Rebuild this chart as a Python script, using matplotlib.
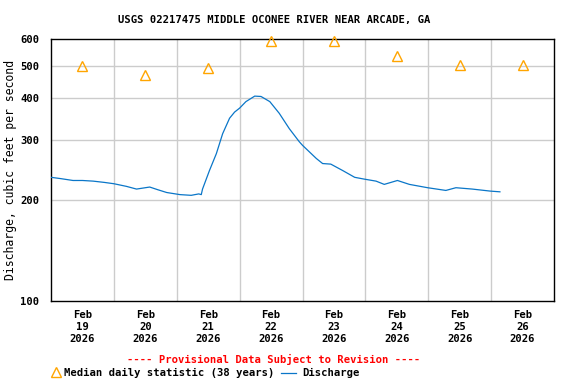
import matplotlib
matplotlib.use("Agg")
import matplotlib.pyplot as plt
from matplotlib.lines import Line2D
from matplotlib.ticker import FixedLocator, NullLocator, NullFormatter
from datetime import datetime, timedelta

plt.rcParams['font.family'] = ['DejaVu Sans Mono']
plt.rcParams['font.weight'] = 'bold'

start = datetime(2026, 2, 19)

# Discharge (cfs) readings: day offset from Feb 19 00:00, value
q_days = [0.00, 0.15, 0.35, 0.50, 0.67, 0.85, 1.00, 1.20, 1.36, 1.57, 1.70, 1.84,
          2.05, 2.23, 2.35, 2.39, 2.41, 2.52, 2.63, 2.73, 2.84, 2.92, 3.00, 3.10,
          3.24, 3.34, 3.48, 3.63, 3.79, 3.95, 4.00, 4.22, 4.32, 4.45, 4.64, 4.83,
          4.99, 5.17, 5.30, 5.51, 5.70, 5.99, 6.28, 6.44, 6.70, 6.99, 7.14]
q_vals = [233, 231, 228, 228, 227, 225, 223, 219, 215, 218, 214, 210,
          207, 206, 208, 207, 215, 244, 274, 314, 349, 364, 374, 391,
          406, 405, 391, 361, 325, 297, 290, 265, 256, 255, 244, 233,
          230, 227, 222, 228, 222, 217, 213, 217, 215, 212, 211]

# Median daily statistic (38 years), at noon of each day
med_days = [0.5, 1.5, 2.5, 3.5, 4.5, 5.5, 6.5, 7.5]
med_vals = [500, 470, 491, 592, 592, 533, 502, 502]

tick_labels = ["Feb\n19\n2026", "Feb\n20\n2026", "Feb\n21\n2026", "Feb\n22\n2026",
               "Feb\n23\n2026", "Feb\n24\n2026", "Feb\n25\n2026", "Feb\n26\n2026"]
y_ticks = [100, 200, 300, 400, 500, 600]

fs = 7.6
fig = plt.figure(figsize=(5.76, 3.84), dpi=100)
ax = fig.add_axes([51/576, 1-301/384, (554-51)/576, (301-39)/384])

q_t = [start + timedelta(days=d) for d in q_days]
m_t = [start + timedelta(days=d) for d in med_days]

ax.plot(q_t, q_vals, color='#0a76c8', lw=0.9, zorder=3)
ax.plot(m_t, med_vals, linestyle='none', marker='^', markersize=7,
        markerfacecolor='none', markeredgecolor='#ffa500', markeredgewidth=1.0,
        zorder=4, clip_on=False)

ax.set_yscale('log')
ax.set_ylim(100, 600)
ax.set_xlim(start, start + timedelta(days=8))
ax.yaxis.set_major_locator(FixedLocator(y_ticks))
ax.yaxis.set_minor_locator(NullLocator())
ax.yaxis.set_minor_formatter(NullFormatter())
ax.set_yticklabels([str(v) for v in y_ticks])

# gridlines at midnight, labels at noon
for d in range(1, 8):
    ax.axvline(start + timedelta(days=d), color='#cccccc', lw=1.0, zorder=1)
for v in [200, 300, 400, 500]:
    ax.axhline(v, color='#cccccc', lw=1.0, zorder=1)

ax.set_xticks([start + timedelta(days=d + 0.5) for d in range(8)])
ax.set_xticklabels(tick_labels, linespacing=1.25)
ax.tick_params(axis='both', length=0, labelsize=fs)
ax.tick_params(axis='y', pad=8.5)
ax.tick_params(axis='x', pad=6.5)
for s in ax.spines.values():
    s.set_linewidth(1.0)
    s.set_color('black')

ax.set_ylabel("Discharge, cubic feet per second", fontsize=8.3, labelpad=2)

fig.text(274/576, 1-20/384, "USGS 02217475 MIDDLE OCONEE RIVER NEAR ARCADE, GA",
         ha='center', va='center', fontsize=fs)
fig.text(274/576, 1-359/384, "---- Provisional Data Subject to Revision ----",
         ha='center', va='center', fontsize=fs, color='red')

# legend
fig.add_artist(Line2D([56/576], [1-372/384], marker='^', markersize=7,
                      markerfacecolor='none', markeredgecolor='#ffa500',
                      markeredgewidth=1.0, linestyle='none',
                      transform=fig.transFigure))
fig.text(64/576, 1-373/384, "Median daily statistic (38 years)",
         ha='left', va='center', fontsize=fs)
fig.add_artist(Line2D([281/576, 296/576], [1-373/384, 1-373/384],
                      color='#0a76c8', lw=0.9, transform=fig.transFigure))
fig.text(302/576, 1-373/384, "Discharge", ha='left', va='center', fontsize=fs)

fig.savefig("out.png", dpi=100)
